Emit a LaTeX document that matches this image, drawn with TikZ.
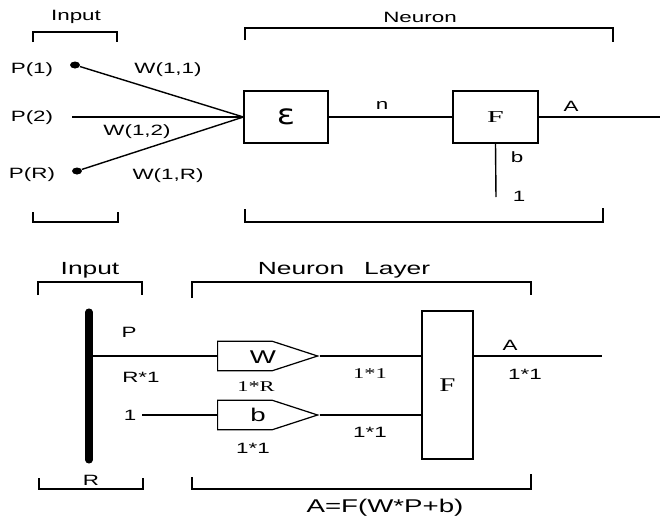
\documentclass[tikz,border=0pt]{standalone}
\usepackage{fontspec}
\setmainfont[FakeStretch=1.5]{Liberation Sans}
\newfontfamily\serifface[FakeStretch=1.5]{Liberation Serif}
\newfontfamily\bigserifface[FakeStretch=1.8]{Liberation Serif}
\newfontfamily\symface[FakeStretch=1.2]{DejaVu Sans}
\usetikzlibrary{shapes.symbols, shapes.geometric, positioning}

\begin{document}
\begin{tikzpicture}[
        x=0.02cm, y=-0.02cm,
        every node/.style={font=\fontsize{8.5}{10}\selectfont, inner sep=1pt},
        block/.style={rectangle, draw=black, line width=0.7pt, inner sep=0pt},
        weight/.style={signal, signal to=east, signal pointer angle=36, draw=black, line width=0.7pt, minimum width=2cm, minimum height=0.59cm, inner sep=0pt, anchor=west},
        wire/.style={line width=0.8pt},
        brace/.style={line width=0.7pt},
        inputdot/.style={ellipse, fill=black, minimum width=0.2cm, minimum height=0.14cm, inner sep=0pt},
        serifnum/.style={font=\fontsize{8.5}{10}\selectfont\serifface},
        boxletter/.style={font=\fontsize{9.5}{10}\selectfont\bigserifface},
        bigtext/.style={font=\fontsize{10}{12}\selectfont}
    ]
        \useasboundingbox (0,0) rectangle (660,521);

        % single neuron
        \node (intitle) at (76,17) {Input};
        \node (neurontitle) at (420,17) {Neuron};
        \draw[brace] (33,42) -- (33,32) -- (117,32) -- (117,42);
        \draw[brace] (33,212) -- (33,222) -- (118,222) -- (118,212);
        \draw[brace] (245,40) -- (245,28) -- (613,28) -- (613,42);
        \draw[brace] (245,209) -- (245,222) -- (603,222) -- (603,208);

        \node (p1label) at (32,70) {P(1)};
        \node (p2label) at (32,118) {P(2)};
        \node (pRlabel) at (32,175) {P(R)};
        \node[inputdot] (p1) at (75,65) {};
        \coordinate (p2) at (72,117);
        \node[inputdot] (pR) at (77,171) {};

        \node[block, minimum width=1.68cm, minimum height=1.04cm] (sum) at (286,117) {\symface\fontsize{16}{16}\selectfont ɛ};
        \node[block, minimum width=1.7cm, minimum height=1.04cm, boxletter] (fun) at (495.5,117) {F};
        \coordinate (out) at (660,117);
        \coordinate (one) at (496,197);

        \draw[wire] (p1) -- (sum.west);
        \draw[wire] (p2) -- (sum.west);
        \draw[wire] (pR) -- (sum.west);
        \draw[wire] (sum) -- (fun);
        \draw[wire] (fun) -- (out);
        \draw[wire] (fun.south) -- (one);

        \node (w11) at (168,70) {W(1,1)};
        \node (w12) at (137,132) {W(1,2)};
        \node (w1R) at (168,176) {W(1,R)};
        \node (nlabel) at (382,105) {n};
        \node (alabel) at (571,106) {A};
        \node (blabel) at (517,157) {b};
        \node (onelabel) at (519,196) {1};

        % neuron layer
        \node[bigtext] (layerin) at (90,270) {Input};
        \node[bigtext] (layertitle) at (344,270) {Neuron\hspace{0.4cm}Layer};
        \draw[brace] (38,295) -- (38,282) -- (142,282) -- (142,295);
        \draw[brace] (39,478) -- (39,489) -- (143,489) -- (143,478);
        \draw[brace] (192,298) -- (192,282) -- (531,282) -- (531,295);
        \draw[brace] (192,477) -- (192,489) -- (531,489) -- (531,474);

        \draw[line width=4pt, line cap=round] (89,312) coordinate (bartop) -- (89,460) coordinate (barbot);
        \coordinate (pvec) at (89,356);
        \coordinate (bias) at (142,415);

        \node[weight] (wgt) at (217,356) {};
        \node[weight] (bgt) at (217,415) {};
        \node[font=\fontsize{10.5}{12}\selectfont] (wtext) at (263,357) {W};
        \node[font=\fontsize{10.5}{12}\selectfont] (btext) at (258,415) {b};
        \node[block, minimum width=1.02cm, minimum height=2.96cm, font=\fontsize{11}{12}\selectfont\serifface] (layerfun) at (447.5,385) {F};
        \coordinate (layerout) at (602,356);

        \draw[wire] (pvec) -- (wgt.west);
        \draw[wire] (bias) -- (bgt.west);
        \draw[wire] (wgt.east) -- (wgt.east -| layerfun.west);
        \draw[wire] (bgt.east) -- (bgt.east -| layerfun.west);
        \draw[wire] (layerfun.east |- layerout) -- (layerout);

        \node (plabel) at (129,332) {P};
        \node (r1label) at (141,377) {R*1};
        \node (onein) at (130,415) {1};
        \node[serifnum] (wdim) at (256,387) {1*R};
        \node (bdim) at (253,448) {1*1};
        \node[serifnum] (wout) at (370,374) {1*1};
        \node (bout) at (370,432) {1*1};
        \node (alayer) at (510,345) {A};
        \node (adim) at (525,374) {1*1};
        \node (rlabel) at (91,480) {R};
        \node[font=\fontsize{10.5}{12}\selectfont] (formula) at (385,508) {A=F(W*P+b)};
    \end{tikzpicture}
\end{document}
